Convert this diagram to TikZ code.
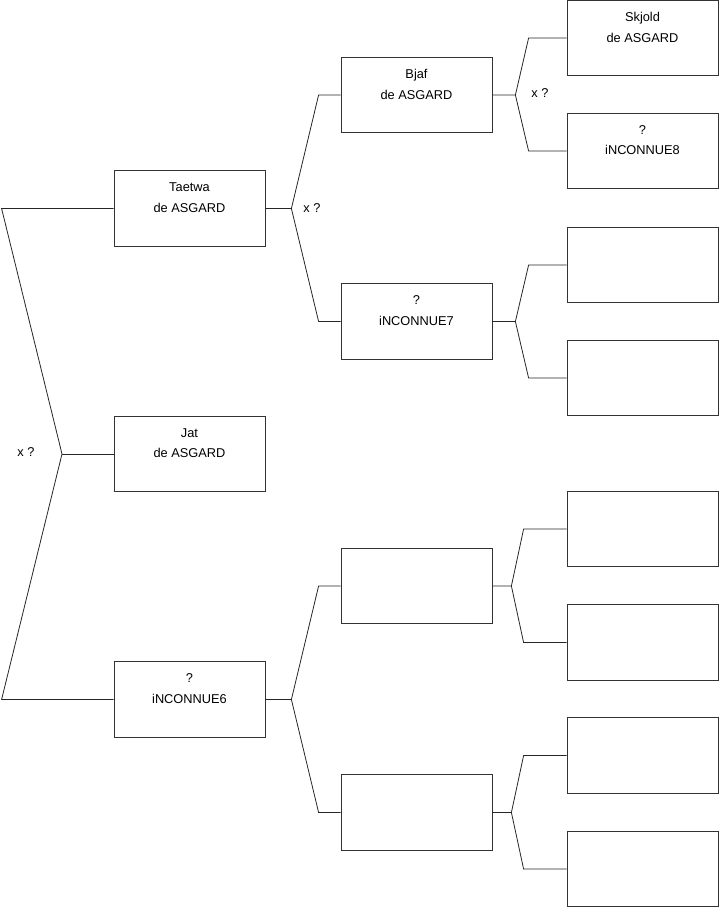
\documentclass[tikz,border=0pt]{standalone}
\usepackage{fontspec}
\setmainfont{Liberation Sans}
\usetikzlibrary{positioning,calc}

\begin{document}
\begin{tikzpicture}[x=1pt, y=-1pt, font=\fontsize{12.8}{20.5}\selectfont, line width=0.8pt]
  \tikzstyle{box}=[draw=black!80,minimum width=151pt,minimum height=75.5pt,inner sep=0pt]
  \tikzstyle{txt}=[inner sep=0pt,align=center]
  \tikzstyle{link}=[draw=black!85]
  \useasboundingbox (0,0) rectangle (719,908);
  % generation 1
  \node[box] (taetwa) at (189.5,208.5) {};
  \node[box] (jat) at (189.5,454) {};
  \node[box] (inc6) at (189.5,699.5) {};
  % generation 2
  \node[box] (bjaf) at (416.5,95) {};
  \node[box] (inc7) at (416.5,321.5) {};
  \node[box] (e21) at (416.5,586) {};
  \node[box] (e22) at (416.5,812.5) {};
  % generation 3
  \node[box] (skjold) at (642.5,38) {};
  \node[box] (inc8) at (642.5,151) {};
  \node[box] (e31) at (642.5,265) {};
  \node[box] (e32) at (642.5,378) {};
  \node[box] (e33) at (642.5,529) {};
  \node[box] (e34) at (642.5,642.5) {};
  \node[box] (e35) at (642.5,755.5) {};
  \node[box] (e36) at (642.5,869) {};
  % names
  \node[txt,below=12pt of taetwa.north] (t1) {Taetwa\\de ASGARD};
  \node[txt,below=12pt of jat.north] (t2) {Jat\\de ASGARD};
  \node[txt,below=12pt of inc6.north] (t3) {?\\iNCONNUE6};
  \node[txt,below=12pt of bjaf.north] (t4) {Bjaf\\de ASGARD};
  \node[txt,below=12pt of inc7.north] (t5) {?\\iNCONNUE7};
  \node[txt,below=12pt of skjold.north] (t6) {Skjold\\de ASGARD};
  \node[txt,below=12pt of inc8.north] (t7) {?\\iNCONNUE8};
  % forks
  \coordinate (root) at (62,454);
  \draw[link] (taetwa.west) -- ++(-112,0) -- (root) -- ([xshift=-112]inc6.west) -- (inc6.west);
  \draw[link] (root) -- (jat.west);
  \node (x0) at (26,452) {x ?};
  \foreach \a/\b/\c/\s/\o in {taetwa/bjaf/inc7/26/22, inc6/e21/e22/26/22, bjaf/skjold/inc8/23/38,
      inc7/e31/e32/23/38, e21/e33/e34/19/43, e22/e35/e36/19/43}{
    \draw[link] (\a.east) -- ++(\s,0) coordinate (f) -- ([xshift=-\o]\b.west) -- (\b.west);
    \draw[link] (f) -- ([xshift=-\o]\c.west) -- (\c.west);
  }
  \node (x1) at (312,208) {x ?};
  \node (x2) at (540,93) {x ?};
\end{tikzpicture}
\end{document}
